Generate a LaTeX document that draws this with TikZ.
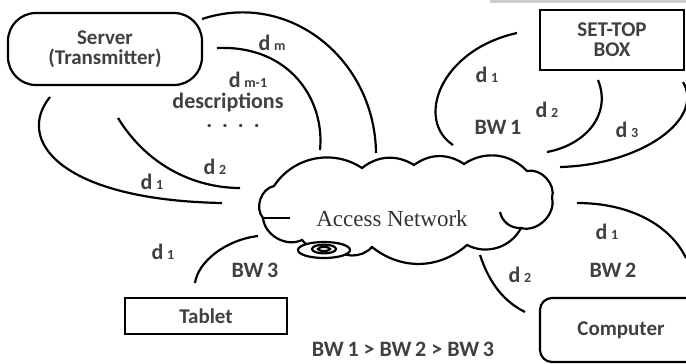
\documentclass[tikz,border=0pt]{standalone}
\usepackage{fontspec}
\setmainfont{Carlito}
\newfontfamily\netfont{Liberation Serif}
\usetikzlibrary{positioning}
\newcommand{\dsub}[1]{d\,{\fontsize{7}{8}\selectfont #1}}

\begin{document}
\begin{tikzpicture}[x=0.5pt,y=-0.5pt,line width=1.1pt]
		\tikzstyle{devbox}=[draw,align=center,text=black!75,font=\bfseries\fontsize{10.5}{10}\selectfont]
		\tikzstyle{lbl}=[text=black!75,font=\bfseries\fontsize{11}{13}\selectfont]
		\useasboundingbox (0,0) rectangle (686,364);
		\fill[black!20] (490,0) rectangle (686,3);
		% end devices
		\node[devbox,rounded corners=14pt,minimum width=97pt,minimum height=36pt] (srv) at (105,49) {Server\\(Transmitter)};
		\node[devbox,minimum width=72pt,minimum height=30pt] (stb) at (612,40) {SET-TOP\\BOX};
		\node[devbox,minimum width=81pt,minimum height=18pt] (tab) at (206,316) {Tablet};
		\node[devbox,rounded corners=6pt,minimum width=81pt,minimum height=32pt] (pc) at (621,330) {Computer};
		% the cloud
		\draw[fill=white] (263,218) to[bend left=60] (274,186) to[bend left=45] (362,168)
			to[bend left=35] (414,165) to[bend left=35] (464,164) to[bend left=40] (527,171)
			to[bend left=60] (552,198) to[bend left=60] (521,228) to[bend left=45] (467,245)
			to[bend left=40] (372,247) to[bend left=50] (332,246) to[bend left=40] (302,240)
			to[bend left=55] cycle;
		\draw (500,212) to[bend right=40] (521,228);
		\draw (263,218) -- (290,218);
		\draw[fill=white] (324,250) ellipse (13pt and 4pt);
		\draw (324,249) ellipse (6pt and 2.2pt);
		\draw (324,249) ellipse (3pt and 1pt);
		\node[text=black!80,font=\netfont\fontsize{11.5}{13}\selectfont] (net) at (392,219) {Access Network};
		% server side descriptions
		\draw (202,19) .. controls (290,-10) and (375,60) .. (376,153);
		\draw (217,48) .. controls (290,45) and (325,100) .. (320,150);
		\draw (118,118) .. controls (150,170) and (200,188) .. (240,188);
		\draw (50,97) .. controls (15,140) and (60,200) .. (222,203);
		\node[lbl] (dm) at (272,43) {\dsub{m}};
		\node[lbl] (dm1) at (248,80) {\dsub{m-1}};
		\node[lbl] (desc) at (228,102) {descriptions};
		\node[lbl] (dots) at (233,126) {.\ \ .\ \ .\ \ .};
		\node[lbl] (sd2) at (215,167) {\dsub{2}};
		\node[lbl] (sd1) at (152,182) {\dsub{1}};
		% set-top box side
		\draw (517,33) .. controls (440,50) and (415,120) .. (453,145);
		\draw (598,80) .. controls (612,115) and (585,145) .. (547,152);
		\draw (683,82) .. controls (705,120) and (640,165) .. (560,167);
		\node[lbl] (bd1) at (487,75) {\dsub{1}};
		\node[lbl] (bd2) at (547,110) {\dsub{2}};
		\node[lbl] (bw1) at (498,127) {BW\,1};
		\node[lbl] (bd3) at (627,130) {\dsub{3}};
		% computer side
		\draw (577,203) .. controls (630,203) and (670,225) .. (686,258);
		\draw (480,255) .. controls (490,285) and (505,302) .. (525,312);
		\node[lbl] (cd1) at (607,232) {\dsub{1}};
		\node[lbl] (cd2) at (520,275) {\dsub{2}};
		\node[lbl] (bw2) at (613,270) {BW\,2};
		% tablet side
		\draw (258,236) .. controls (225,240) and (198,262) .. (195,283);
		\node[lbl] (td1) at (163,252) {\dsub{1}};
		\node[lbl] (bw3) at (255,270) {BW\,3};
		\node[lbl] (order) at (403,349) {BW\,1 > BW\,2 > BW\,3};
\end{tikzpicture}
\end{document}
